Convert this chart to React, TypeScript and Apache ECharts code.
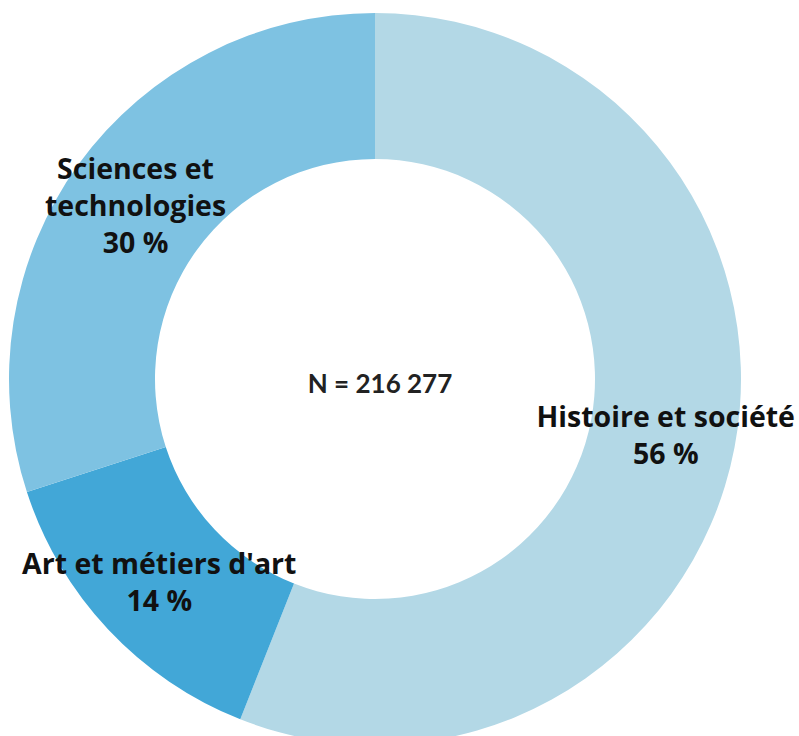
import React, { useEffect, useRef } from "react";
import * as echarts from "echarts";

const categories = ["Histoire et société", "Art et métiers d'art", "Sciences et\ntechnologies"];
const values = [56, 14, 30];
const colors = ["#b3d8e6", "#42a7d7", "#7ec2e2"];
const totalLabel = "N = 216 277";

export default function App() {
  const ref = useRef<HTMLDivElement>(null);
  useEffect(() => {
    document.body.style.margin = "0";
    const chart = echarts.init(ref.current!, null, { renderer: "svg" });
    chart.setOption({
      animation: false,
      backgroundColor: "#ffffff",
      series: [
        {
          type: "pie",
          center: [375, 379],
          radius: [220, 366],
          startAngle: 90,
          clockwise: true,
          silent: true,
          data: categories.map((name, i) => ({
            name,
            value: values[i],
            itemStyle: { color: colors[i] },
          })),
          itemStyle: { borderWidth: 0 },
          label: {
            show: true,
            position: "inside",
            formatter: (p: any) => `${p.name}\n${p.value} %`,
            fontFamily: "Open Sans",
            fontWeight: "bold",
            fontSize: 28.5,
            lineHeight: 37,
            color: "#111111",
            align: "center",
          },
          labelLine: { show: false },
        },
      ],
      graphic: [
        {
          type: "text",
          x: 380,
          y: 383,
          style: {
            text: totalLabel,
            align: "center",
            verticalAlign: "middle",
            fontFamily: "Lato",
            fontWeight: "bold",
            fontSize: 26,
            fill: "#222222",
          },
        },
      ],
    });
    return () => chart.dispose();
  }, []);
  return <div ref={ref} style={{ width: 799, height: 736 }} />;
}
